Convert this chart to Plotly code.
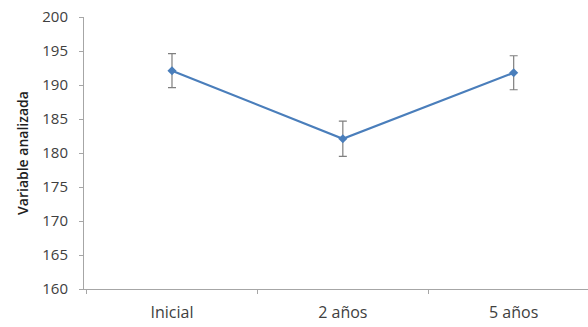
import plotly.graph_objects as go

categories = ["Inicial", "2 años", "5 años"]
means = [192.1, 182.1, 191.8]
errors = [2.5, 2.6, 2.5]
y_ticks = [160, 165, 170, 175, 180, 185, 190, 195, 200]

fig = go.Figure()
fig.add_trace(go.Scatter(
    x=categories, y=means,
    mode="lines+markers",
    line=dict(color="#4a7ebb", width=2.2),
    marker=dict(symbol="diamond", size=7, color="#4a7ebb"),
    error_y=dict(type="data", array=errors, visible=True, color="#7f7f7f", thickness=1.2, width=4),
    showlegend=False,
))

fig.update_layout(
    width=588, height=327,
    margin=dict(l=84, r=0, t=17, b=38),
    paper_bgcolor="white", plot_bgcolor="white",
    font=dict(family="'Open Sans', Lato, sans-serif", color="#404040", size=14),
)
fig.update_xaxes(
    type="category", range=[-0.515, 2.435],
    showline=True, linecolor="#a6a6a6", linewidth=1,
    ticks="outside", tickson="boundaries", ticklen=4, tickcolor="#a6a6a6",
    showgrid=False, zeroline=False,
    tickfont=dict(size=16, color="#404040"),
    ticklabelstandoff=9,
)
fig.update_yaxes(
    range=[160, 200], tickvals=y_ticks,
    showline=True, linecolor="#a6a6a6", linewidth=1,
    ticks="outside", ticklen=4, tickcolor="#a6a6a6",
    showgrid=False, zeroline=False,
    tickfont=dict(size=15, color="#404040"),
    ticklabelstandoff=8,
    title=dict(text="Variable analizada", font=dict(size=14, color="#202020", weight=600), standoff=10),
)

fig.write_html("out.html")
